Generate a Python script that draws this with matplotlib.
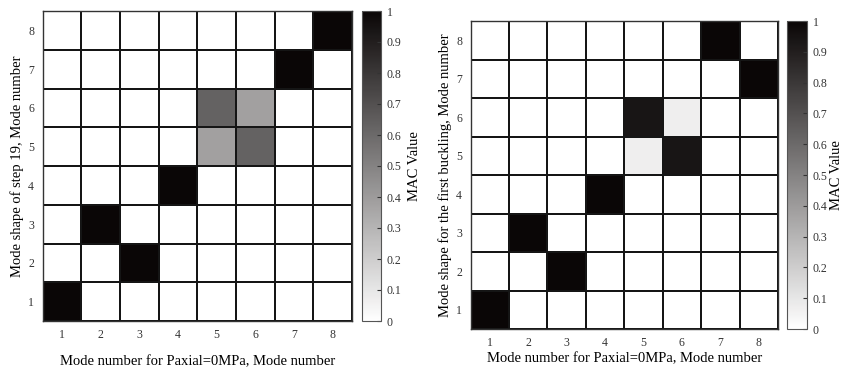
import numpy as np
import matplotlib
matplotlib.use("Agg")
import matplotlib.pyplot as plt
from matplotlib.colors import LinearSegmentedColormap

plt.rcParams['font.family'] = ['Liberation Serif', 'DejaVu Serif']

modes = [1, 2, 3, 4, 5, 6, 7, 8]
cbar_ticks = [0, 0.1, 0.2, 0.3, 0.4, 0.5, 0.6, 0.7, 0.8, 0.9, 1]
cbar_labels = ["0", "0.1", "0.2", "0.3", "0.4", "0.5", "0.6", "0.7", "0.8", "0.9", "1"]

# rows = y mode (1..8), columns = x mode (1..8)
mac_left = np.array([
    [1, 0, 0, 0, 0, 0, 0, 0],
    [0, 0, 1, 0, 0, 0, 0, 0],
    [0, 1, 0, 0, 0, 0, 0, 0],
    [0, 0, 0, 1, 0, 0, 0, 0],
    [0, 0, 0, 0, 0.38, 0.63, 0, 0],
    [0, 0, 0, 0, 0.63, 0.38, 0, 0],
    [0, 0, 0, 0, 0, 0, 1, 0],
    [0, 0, 0, 0, 0, 0, 0, 1],
])
mac_right = np.array([
    [1, 0, 0, 0, 0, 0, 0, 0],
    [0, 0, 1, 0, 0, 0, 0, 0],
    [0, 1, 0, 0, 0, 0, 0, 0],
    [0, 0, 0, 1, 0, 0, 0, 0],
    [0, 0, 0, 0, 0.07, 0.94, 0, 0],
    [0, 0, 0, 0, 0.94, 0.07, 0, 0],
    [0, 0, 0, 0, 0, 0, 0, 1],
    [0, 0, 0, 0, 0, 0, 1, 0],
])

xlabel = "Mode number for Paxial=0MPa, Mode number"
ylabel_left = "Mode shape of step 19, Mode number"
ylabel_right = "Mode shape for the first buckling, Mode number"

cmap = LinearSegmentedColormap.from_list("macgray", ["#ffffff", "#0a0606"])

fig = plt.figure(figsize=(8.44, 3.70), dpi=100)
W, H = 844, 370

def px(x0, y0, x1, y1):
    return [x0 / W, 1 - y1 / H, (x1 - x0) / W, (y1 - y0) / H]

def draw(ax_rect, cb_rect, data, ylabel, xlabelpad, cblabelpad):
    ax = fig.add_axes(px(*ax_rect))
    edges = np.arange(0.5, 9.5, 1)
    m = ax.pcolormesh(edges, edges, data, cmap=cmap, vmin=0, vmax=1,
                      edgecolors='#151515', linewidth=1.2)
    ax.set_xlim(0.5, 8.5)
    ax.set_ylim(0.5, 8.5)
    ax.set_xticks(modes)
    ax.set_yticks(modes)
    ax.set_xticklabels([str(v) for v in modes])
    ax.set_yticklabels([str(v) for v in modes])
    ax.tick_params(length=0, labelsize=8.5, colors='#333333', pad=6)
    for s in ax.spines.values():
        s.set_linewidth(1.0)
        s.set_color('#333333')
    ax.set_xlabel(xlabel, fontsize=10.5, labelpad=xlabelpad)
    ax.set_ylabel(ylabel, fontsize=10.5, labelpad=3)
    cax = fig.add_axes(px(*cb_rect))
    cb = fig.colorbar(m, cax=cax)
    cb.set_ticks(cbar_ticks)
    cb.set_ticklabels(cbar_labels)
    cax.tick_params(direction='in', length=3, labelsize=8.5, colors='#333333',
                    width=0.8, pad=4)
    cb.outline.set_linewidth(0.8)
    cb.outline.set_edgecolor('#555555')
    cb.set_label("MAC Value", fontsize=10.5, labelpad=cblabelpad)
    return ax

draw((42.5, 11, 352, 321), (362, 11, 381, 321), mac_left, ylabel_left, 10, 5)
draw((470.5, 21, 778, 329), (787, 21, 807, 329), mac_right, ylabel_right, 2, 2)

fig.savefig("out.png", dpi=100)
